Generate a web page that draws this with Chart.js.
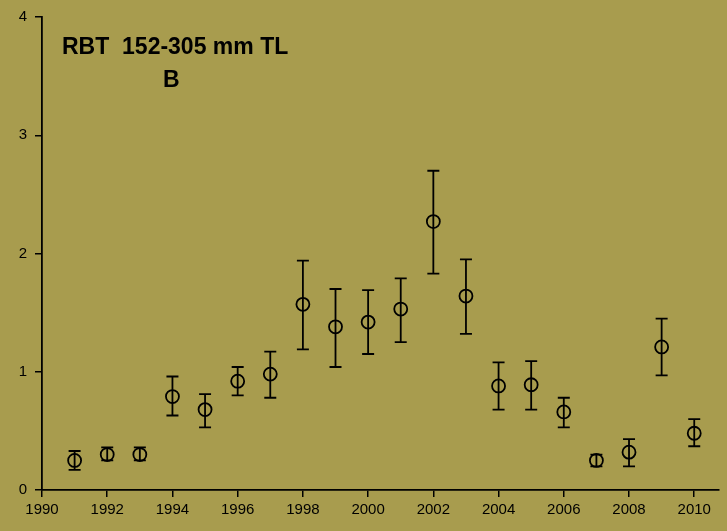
<!DOCTYPE html>
<html>
<head>
<meta charset="utf-8">
<script src="https://cdn.jsdelivr.net/npm/chart.js@4"></script>
<style>
  html, body { margin: 0; padding: 0; background: #A89C4E; }
  #wrap { width: 727px; height: 531px; }
</style>
</head>
<body>
<div id="wrap"><canvas id="c"></canvas></div>
<script>
const years = [1991, 1992, 1993, 1994, 1995, 1996, 1997, 1998, 1999, 2000,
               2001, 2002, 2003, 2004, 2005, 2006, 2007, 2008, 2009, 2010];
const means = [0.25, 0.30, 0.30, 0.79, 0.68, 0.92, 0.98, 1.57, 1.38, 1.42,
               1.53, 2.27, 1.64, 0.88, 0.89, 0.66, 0.25, 0.32, 1.21, 0.48];
const lower = [0.17, 0.25, 0.25, 0.63, 0.53, 0.80, 0.78, 1.19, 1.04, 1.15,
               1.25, 1.83, 1.32, 0.68, 0.68, 0.53, 0.20, 0.20, 0.97, 0.37];
const upper = [0.33, 0.36, 0.36, 0.96, 0.81, 1.04, 1.17, 1.94, 1.70, 1.69,
               1.79, 2.70, 1.95, 1.08, 1.09, 0.78, 0.30, 0.43, 1.45, 0.60];

const errorBars = {
    id: 'errorBars',
    beforeDatasetsDraw(chart) {
        const ctx = chart.ctx;
        const xs = chart.scales.x, ys = chart.scales.y;
        ctx.save();
        ctx.strokeStyle = '#000';
        ctx.lineWidth = 1.8;
        years.forEach((yr, i) => {
            const x = xs.getPixelForValue(yr);
            const yl = ys.getPixelForValue(lower[i]);
            const yu = ys.getPixelForValue(upper[i]);
            ctx.beginPath();
            ctx.moveTo(x, yl); ctx.lineTo(x, yu);
            ctx.moveTo(x - 6, yl); ctx.lineTo(x + 6, yl);
            ctx.moveTo(x - 6, yu); ctx.lineTo(x + 6, yu);
            ctx.stroke();
        });
        ctx.restore();
    }
};

const labels = {
    id: 'labels',
    afterDraw(chart) {
        const ctx = chart.ctx;
        ctx.save();
        ctx.fillStyle = '#000';
        ctx.font = 'bold 23px "Liberation Sans", Arial, sans-serif';
        ctx.textBaseline = 'middle';
        ctx.fillText('RBT  152-305 mm TL', 62, 48);
        ctx.fillText('B', 163, 81);
        ctx.restore();
    }
};

new Chart(document.getElementById('c'), {
    type: 'scatter',
    data: {
        datasets: [{
            data: years.map((y, i) => ({ x: y, y: means[i] })),
            pointRadius: 6.5,
            pointBorderWidth: 1.8,
            pointBorderColor: '#000',
            pointBackgroundColor: 'rgba(0,0,0,0)',
            pointHoverRadius: 6.5
        }]
    },
    options: {
        responsive: true,
        maintainAspectRatio: false,
        animation: false,
        layout: { padding: { top: 5, right: 0, left: 0, bottom: 0 } },
        plugins: { legend: { display: false }, tooltip: { enabled: false } },
        scales: {
            x: {
                type: 'linear',
                min: 1990,
                max: 2010.75,
                afterBuildTicks: axis => {
                    axis.ticks = [];
                    for (let v = 1990; v <= 2010; v += 2) axis.ticks.push({ value: v });
                },
                ticks: {
                    color: '#000',
                    maxRotation: 0,
                    padding: 4,
                    font: { family: '"Liberation Sans", Arial', size: 15 },
                    callback: v => String(v)
                },
                grid: { drawOnChartArea: false, color: '#000', tickLength: 7, lineWidth: 1.5 },
                border: { color: '#000', width: 1.8 },
                afterFit: axis => { axis.height = 41; }
            },
            y: {
                min: 0,
                max: 4,
                ticks: {
                    stepSize: 1,
                    color: '#000',
                    padding: 8,
                    font: { family: '"Liberation Sans", Arial', size: 15 }
                },
                grid: { drawOnChartArea: false, color: '#000', tickLength: 7, lineWidth: 1.5 },
                border: { color: '#000', width: 1.8 },
                afterFit: axis => { axis.width = 42; }
            }
        }
    },
    plugins: [errorBars, labels]
});
</script>
</body>
</html>
